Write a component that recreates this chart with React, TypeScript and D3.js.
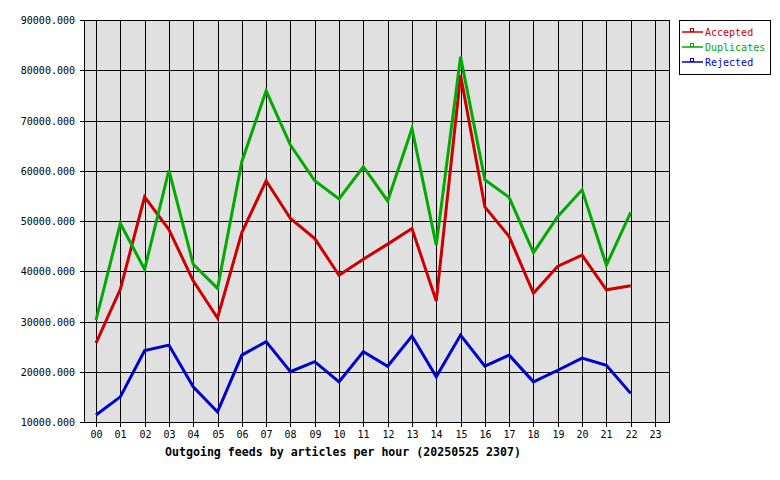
import * as d3 from 'd3';

const W = 780;
const H = 480;
const PLOT = { left: 84, right: 669, top: 20, bottom: 422 };

const hours = d3.range(24).map((h) => String(h).padStart(2, '0'));
const yTicks = [10000, 20000, 30000, 40000, 50000, 60000, 70000, 80000, 90000];

// hourly values (hour 23 has no data)
const accepted = [
    25700, 36400, 54800, 48300, 38100, 30700, 47700, 58000, 50500, 46500, 39200, 42400,
    45400, 48500, 34100, 79000, 52800, 46900, 35600, 41000, 43200, 36300, 37100,
];
const duplicates = [
    30300, 49500, 40400, 60100, 41400, 36600, 61800, 75900, 65100, 58000, 54400, 60800,
    54000, 68400, 45200, 82700, 58200, 54700, 43700, 50900, 56200, 41200, 51700,
];
const rejected = [
    11400, 15000, 24200, 25300, 17000, 12000, 23300, 26000, 20000, 22000, 18000, 24000,
    21100, 27100, 19000, 27300, 21100, 23300, 18000, 20300, 22700, 21300, 15700,
];

const series = [
    { name: 'Accepted', values: accepted, color: '#cc0000' },
    { name: 'Duplicates', values: duplicates, color: '#00aa00' },
    { name: 'Rejected', values: rejected, color: '#0000cc' },
];

const FONT = '"DejaVu Sans Mono", "Liberation Mono", monospace';

export default function App() {
    const x = d3.scalePoint<string>().domain(hours).range([96, 655]);
    const y = d3.scaleLinear().domain([10000, 90000]).range([PLOT.bottom, PLOT.top]);

    const line = d3
        .line<number>()
        .x((_, i) => x(hours[i]) as number)
        .y((d) => y(d));

    return (
        <div style={{ position: 'absolute', left: 0, top: 0 }}>
            <svg width={W} height={H} style={{ display: 'block', background: '#fff' }}>
                <rect
                    x={PLOT.left}
                    y={PLOT.top}
                    width={PLOT.right - PLOT.left}
                    height={PLOT.bottom - PLOT.top}
                    fill="#e0e0e0"
                />
                {/* grid */}
                {yTicks.map((t) => (
                    <g key={t}>
                        <line x1={PLOT.left - 4} x2={PLOT.right} y1={Math.round(y(t)) + 0.5} y2={Math.round(y(t)) + 0.5} stroke="#000" />
                        <text
                            x={75}
                            y={Math.round(y(t)) + 4}
                            textAnchor="end"
                            fontFamily={FONT}
                            fontSize={10}
                        >
                            {d3.format('.3f')(t)}
                        </text>
                    </g>
                ))}
                {hours.map((h) => {
                    const px = Math.round(x(h) as number) + 0.5;
                    return (
                        <g key={h}>
                            <line x1={px} x2={px} y1={PLOT.top} y2={PLOT.bottom + 5} stroke="#000" />
                            <text x={px} y={438} textAnchor="middle" fontFamily={FONT} fontSize={10}>
                                {h}
                            </text>
                        </g>
                    );
                })}
                <rect
                    x={PLOT.left + 0.5}
                    y={PLOT.top + 0.5}
                    width={PLOT.right - PLOT.left}
                    height={PLOT.bottom - PLOT.top}
                    fill="none"
                    stroke="#000"
                />
                {/* series */}
                {series.map((s) => (
                    <path
                        key={s.name}
                        d={line(s.values) ?? ''}
                        fill="none"
                        stroke={s.color}
                        strokeWidth={3}
                        strokeLinejoin="miter"
                    />
                ))}
                {/* legend */}
                <rect x={679.5} y={20.5} width={91} height={54} fill="#fff" stroke="#000" />
                {series.map((s, i) => {
                    const ly = 32 + i * 15;
                    return (
                        <g key={s.name}>
                            <line x1={682} x2={703} y1={ly} y2={ly} stroke={s.color} strokeWidth={1.5} />
                            <rect x={690.5} y={ly - 3.5} width={3} height={3} fill="none" stroke={s.color} />
                            <text x={705} y={ly + 4} fontFamily={FONT} fontSize={10} fill={s.color}>
                                {s.name}
                            </text>
                        </g>
                    );
                })}
                <text
                    x={343}
                    y={456}
                    textAnchor="middle"
                    fontFamily={FONT}
                    fontSize={11.6}
                    fontWeight="bold"
                >
                    Outgoing feeds by articles per hour (20250525 2307)
                </text>
            </svg>
        </div>
    );
}
